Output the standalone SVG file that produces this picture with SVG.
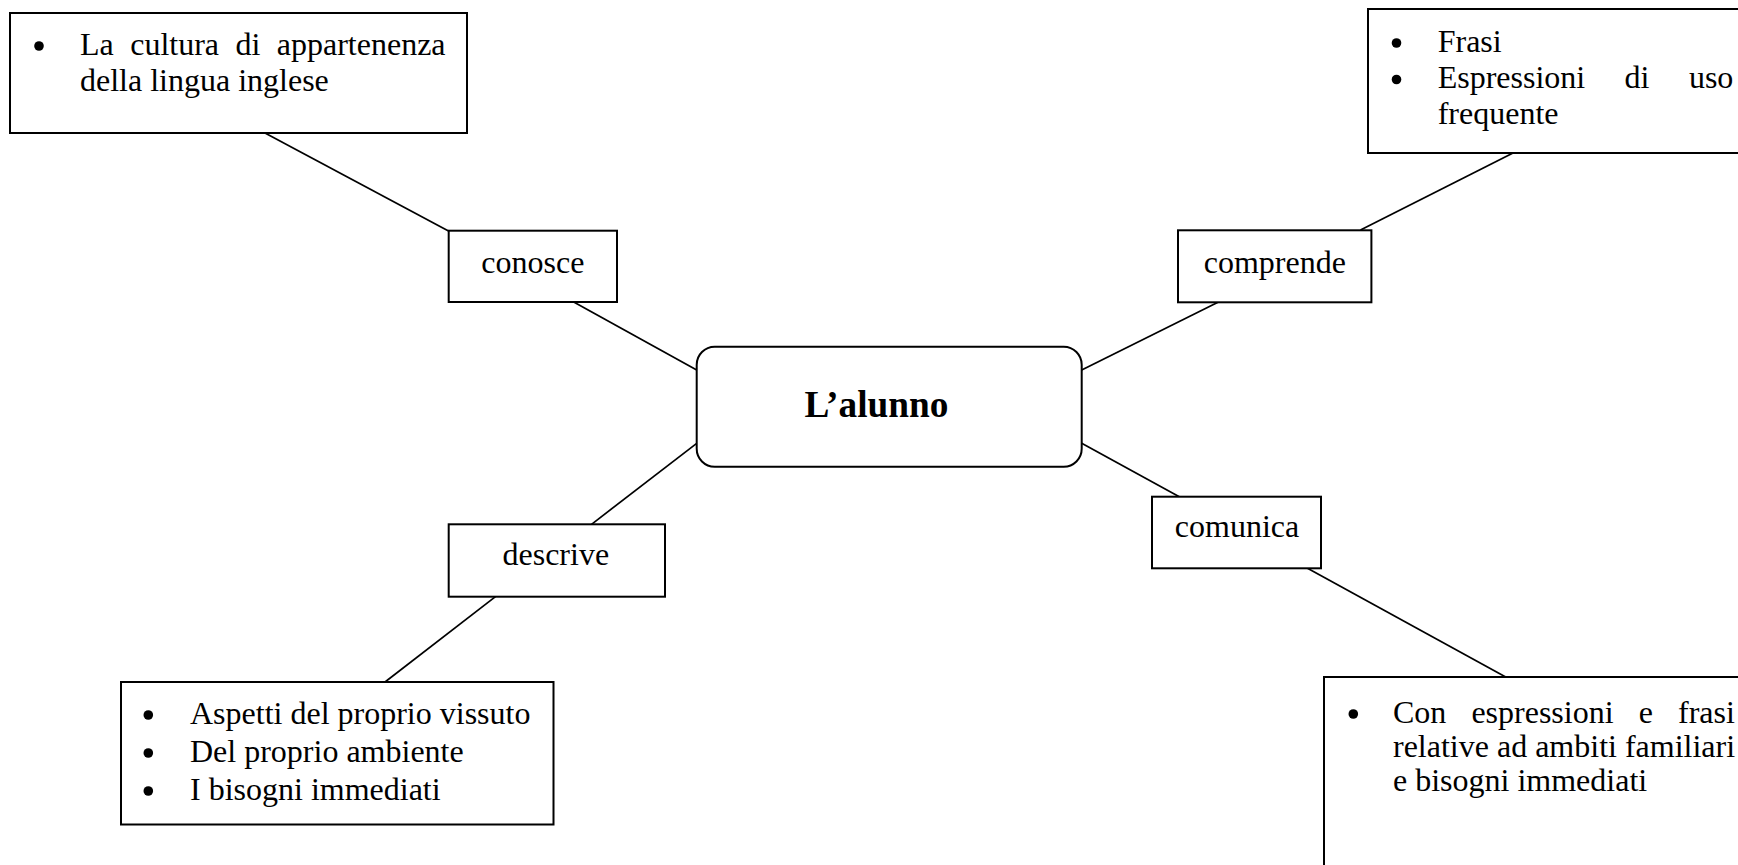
<svg xmlns="http://www.w3.org/2000/svg" width="1738" height="865" viewBox="0 0 1738 865">
<style>
.box{fill:#fff;stroke:#000;stroke-width:2}
.t{font-family:"Liberation Serif","Times New Roman",serif;font-size:32px;fill:#000}
.dot{fill:#000;stroke:none}
.lbl{font-family:"Liberation Serif","Times New Roman",serif;font-size:32px;fill:#000;text-anchor:middle}
.c{stroke:#000;stroke-width:1.7;fill:none}
</style>
<defs>
<circle id="bullet" class="dot" cx="0" cy="0" r="4.8"/>
</defs>
<rect width="1738" height="865" fill="#fff"/>
<g id="connectors">
<line class="c" x1="265" y1="133" x2="448.5" y2="231"/>
<line class="c" x1="573.7" y1="302" x2="696.7" y2="370"/>
<line class="c" x1="696.7" y1="443.3" x2="591.5" y2="524.3"/>
<line class="c" x1="495.5" y1="596.7" x2="385" y2="682"/>
<line class="c" x1="1513" y1="153" x2="1360.5" y2="230"/>
<line class="c" x1="1218" y1="302.3" x2="1081.7" y2="370"/>
<line class="c" x1="1081.7" y1="443.3" x2="1179.3" y2="496.7"/>
<line class="c" x1="1307.5" y1="568.3" x2="1513" y2="681"/>
</g>
<g id="center">
<rect class="box" x="696.7" y="346.7" width="385" height="120" rx="18" ry="18"/>
<text x="876.5" y="417" text-anchor="middle" font-family="'Liberation Serif','Times New Roman',serif" font-size="37.3" font-weight="bold">L’alunno</text>
</g>
<g id="conosce">
<rect class="box" x="448.7" y="230.7" width="168.3" height="71.3"/>
<text class="lbl" x="532.8" y="273">conosce</text>
</g>
<g id="comprende">
<rect class="box" x="1178" y="230.3" width="193.4" height="72"/>
<text class="lbl" x="1274.8" y="273">comprende</text>
</g>
<g id="descrive">
<rect class="box" x="448.7" y="524.3" width="216.3" height="72.4"/>
<text class="lbl" x="555.8" y="565">descrive</text>
</g>
<g id="comunica">
<rect class="box" x="1152" y="496.7" width="169" height="71.6"/>
<text class="lbl" x="1237" y="537">comunica</text>
</g>
<g id="cultura">
<rect class="box" x="10" y="13" width="457" height="120"/>
<use href="#bullet" x="39" y="46"/>
<text class="t" y="55"><tspan x="80">La</tspan><tspan x="130.2">cultura</tspan><tspan x="235.5">di</tspan><tspan x="276.8">appartenenza</tspan></text>
<text class="t" x="80" y="91">della lingua inglese</text>
</g>
<g id="frasi">
<rect class="box" x="1368" y="9" width="500" height="144"/>
<use href="#bullet" x="1396.5" y="43"/>
<text class="t" x="1437.7" y="52">Frasi</text>
<use href="#bullet" x="1396.5" y="79.5"/>
<text class="t" y="88"><tspan x="1437.7">Espressioni</tspan><tspan x="1624.6">di</tspan><tspan x="1688.9">uso</tspan></text>
<text class="t" x="1437.7" y="124">frequente</text>
</g>
<g id="aspetti">
<rect class="box" x="121" y="682" width="432.5" height="142.5"/>
<use href="#bullet" x="148.3" y="715"/>
<text class="t" x="190" y="724">Aspetti del proprio vissuto</text>
<use href="#bullet" x="148.3" y="753"/>
<text class="t" x="190" y="762">Del proprio ambiente</text>
<use href="#bullet" x="148.3" y="791"/>
<text class="t" x="190" y="800">I bisogni immediati</text>
</g>
<g id="espressioni">
<rect class="box" x="1324" y="677" width="500" height="300"/>
<use href="#bullet" x="1353.3" y="714"/>
<text class="t" y="723"><tspan x="1393">Con</tspan><tspan x="1471.4">espressioni</tspan><tspan x="1638.7">e</tspan><tspan x="1678">frasi</tspan></text>
<text class="t" x="1393" y="757">relative ad ambiti familiari</text>
<text class="t" x="1393" y="791">e bisogni immediati</text>
</g>
</svg>
